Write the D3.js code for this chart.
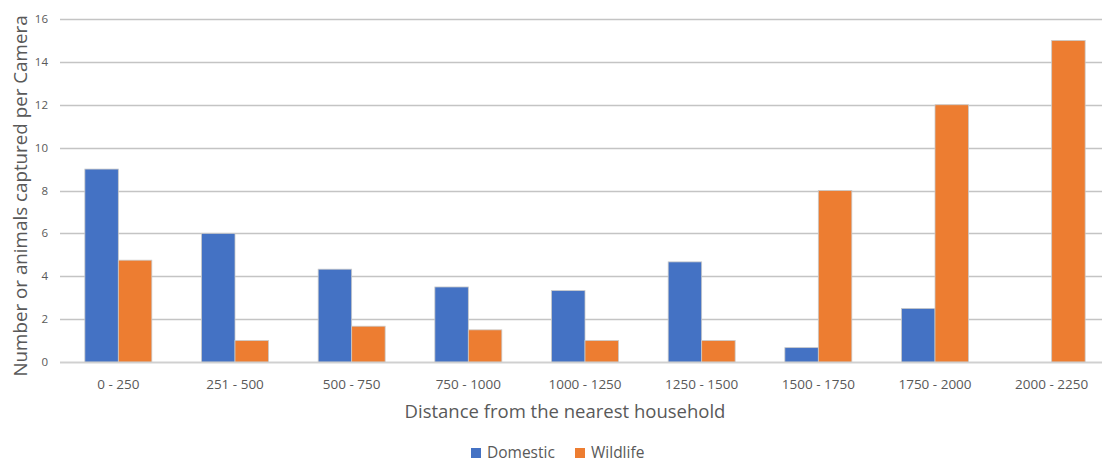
<!DOCTYPE html>
<html>
<head>
<meta charset="utf-8">
<script src="https://cdn.jsdelivr.net/npm/d3@7"></script>
<style>
  body { margin: 0; background: #fff; }
  text { font-family: "Open Sans", "Noto Sans", sans-serif; fill: #595959; }
</style>
</head>
<body>
<div id="vis"></div>
<script>
// chart data
let categories = ['0 - 250', '251 - 500', '500 - 750', '750 - 1000', '1000 - 1250',
  '1250 - 1500', '1500 - 1750', '1750 - 2000', '2000 - 2250'];
let domestic = [9, 6, 4.33, 3.5, 3.33, 4.67, 0.67, 2.5, 0];
let wildlife = [4.75, 1, 1.67, 1.5, 1, 1, 8, 12, 15];
let seriesNames = ['Domestic', 'Wildlife'];
let yTicks = [0, 2, 4, 6, 8, 10, 12, 14, 16];

let colors = {Domestic: '#4472C4', Wildlife: '#ED7D31'};

let width = 1102, height = 463;

let svg = d3.select('#vis')
.append('svg')
.attr('width', width)
.attr('height', height)
.style('display', 'block')

let x = d3.scaleBand()
.domain(categories)
.range([60, 1110])
.paddingInner(0.426)
.paddingOuter(0.213)

let x1 = d3.scaleBand()
.domain(seriesNames)
.range([0, x.bandwidth()])

let y = d3.scaleLinear()
.domain([0, 16])
.range([362, 19])

// gridlines
svg.append('g')
.selectAll('line')
.data(yTicks)
.join('line')
.attr('x1', 60)
.attr('x2', 1110)
.attr('y1', d => Math.round(y(d)) + 0.5)
.attr('y2', d => Math.round(y(d)) + 0.5)
.attr('stroke', '#c4c4c4')
.attr('stroke-width', 1.3)

// y tick labels
svg.append('g')
.selectAll('text')
.data(yTicks)
.join('text')
.attr('x', 48)
.attr('y', d => y(d) + 4)
.attr('text-anchor', 'end')
.style('font-size', '11.5px')
.text(d => d)

// bars
let rows = categories.map((c, i) => ({cat: c, Domestic: domestic[i], Wildlife: wildlife[i]}));

let groups = svg.append('g')
.selectAll('g')
.data(rows)
.join('g')
.attr('transform', d => 'translate(' + x(d.cat) + ',0)')

groups.selectAll('rect')
.data(d => seriesNames.map(k => ({key: k, value: d[k]})).filter(e => e.value > 0))
.join('rect')
.attr('x', d => x1(d.key))
.attr('y', d => y(d.value))
.attr('width', x1.bandwidth())
.attr('height', d => y(0) - y(d.value))
.attr('fill', d => colors[d.key])
.attr('stroke', '#c9c9c9')
.attr('stroke-width', 0.8)

// baseline
svg.append('line')
.attr('x1', 60)
.attr('x2', 1110)
.attr('y1', y(0) + 0.5)
.attr('y2', y(0) + 0.5)
.attr('stroke', '#d0d0d0')
.attr('stroke-width', 1.3)

// x tick labels
svg.append('g')
.selectAll('text')
.data(categories)
.join('text')
.attr('x', d => x(d) + x.bandwidth() / 2)
.attr('y', 389)
.attr('text-anchor', 'middle')
.style('font-size', '13.5px')
.text(d => d)

// axis titles
svg.append('text')
.attr('x', 565)
.attr('y', 418)
.attr('text-anchor', 'middle')
.style('font-size', '18.5px')
.text('Distance from the nearest household')

svg.append('text')
.attr('transform', 'translate(27,196) rotate(-90)')
.attr('text-anchor', 'middle')
.style('font-size', '18.8px')
.text('Number or animals captured per Camera')

// legend
let legend = svg.append('g')
.selectAll('g')
.data(seriesNames)
.join('g')
.attr('transform', (d, i) => 'translate(' + (471 + i * 104) + ',448)')

legend.append('rect')
.attr('width', 10)
.attr('height', 10)
.attr('fill', d => colors[d])

legend.append('text')
.attr('x', 16)
.attr('y', 10)
.style('font-size', '15.5px')
.text(d => d)
</script>
</body>
</html>
